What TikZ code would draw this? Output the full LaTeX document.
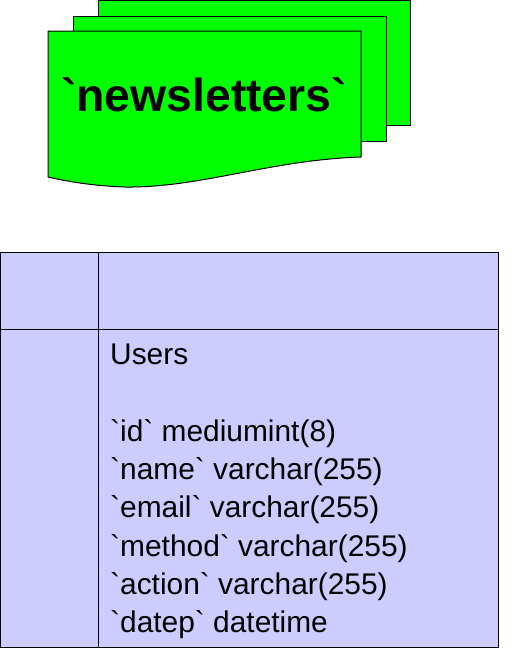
\documentclass[tikz,border=0pt]{standalone}
\usepackage{fontspec}
\setmainfont{Liberation Sans}[Ligatures=TeXOff]
\usepackage{tikz}
\usetikzlibrary{positioning}
\definecolor{DocGreen}{HTML}{00FF00}
\definecolor{CellBlue}{HTML}{CCCCFF}
\begin{document}
\begin{tikzpicture}[x=1pt,y=-1pt,node distance=0pt,
 sheet/.style={draw=black,line width=1pt,fill=DocGreen},
 cell/.style={draw=black,line width=1pt,fill=CellBlue,outer sep=0pt,inner sep=0pt},
 fieldlist/.style={align=left,inner sep=0pt,font=\fontsize{29.9}{38.3}\selectfont}]
\useasboundingbox (0,0) rectangle (525,648);
% stacked document
\draw[sheet] (98,0) rectangle (410,125);
\draw[sheet] (73,16) rectangle (386,141);
\draw[sheet] (48,31) -- (361,31) -- (361,157) .. controls (270,160) and (200,188) .. (125,187) .. controls (95,186) and (70,182) .. (48,177) -- cycle;
\node[font=\fontsize{46.3}{50}\selectfont\bfseries] (newsletters) at (204,94.5) {`newsletters`};
% table
\node[cell,minimum width=98pt,minimum height=77pt,anchor=north west] (topleft) at (0,252) {};
\node[cell,minimum width=400pt,minimum height=77pt,right=of topleft] (topright) {};
\node[cell,minimum width=98pt,minimum height=318pt,below=of topleft] (botleft) {};
\node[cell,minimum width=400pt,minimum height=318pt,below=of topright] (botright) {};
\node[fieldlist,anchor=north west] (users) at (110,344) {Users\\[38.3pt]`id` mediumint(8)\\`name` varchar(255)\\`email` varchar(255)\\`method` varchar(255)\\`action` varchar(255)\\`datep` datetime};
\end{tikzpicture}
\end{document}
